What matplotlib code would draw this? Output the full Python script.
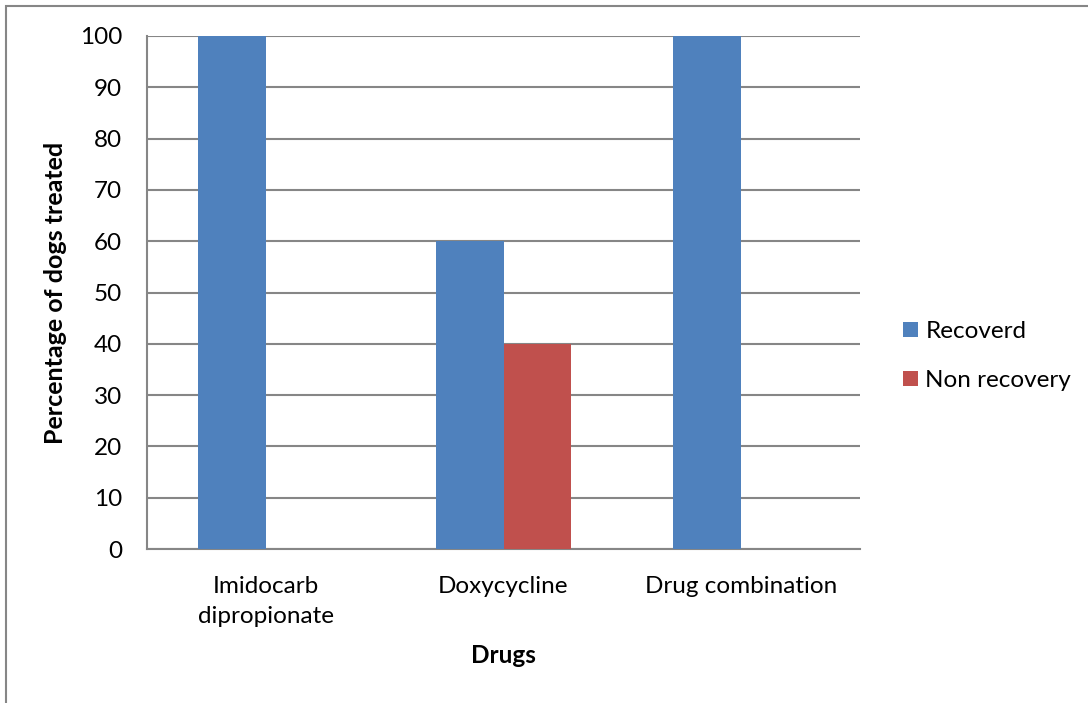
import matplotlib.pyplot as plt
import numpy as np
from matplotlib.patches import Rectangle

drugs = ["Imidocarb\ndipropionate", "Doxycycline", "Drug combination"]
recovered = [100, 60, 100]
non_recovery = [0, 40, 0]

blue = "#4F81BD"
red = "#C0504D"
grid_col = "#868686"

plt.rcParams['font.family'] = ['Lato', 'DejaVu Sans']

fig = plt.figure(figsize=(10.88, 7.03), dpi=100)
ax = fig.add_axes([147 / 1088, 1 - 549 / 703, (860 - 147) / 1088, (549 - 36) / 703])

x = np.arange(len(drugs))
w = 0.286
ax.bar(x - w / 2, recovered, w, color=blue, label="Recoverd", zorder=3)
ax.bar(x + w / 2, non_recovery, w, color=red, label="Non recovery", zorder=3)

ax.set_xlim(-0.5, 2.5)
ax.set_ylim(0, 100)
ax.set_yticks(range(0, 101, 10))
ax.set_xticks(x)
ax.set_xticklabels(drugs, fontsize=17.5, linespacing=1.55)
ax.tick_params(axis='y', labelsize=17.5, length=0, pad=18)
ax.tick_params(axis='x', length=0, pad=19.5)

ax.grid(axis='y', color=grid_col, linewidth=1.5, zorder=0)
for s in ['top', 'right']:
    ax.spines[s].set_visible(False)
for s in ['left', 'bottom']:
    ax.spines[s].set_color(grid_col)
    ax.spines[s].set_linewidth(1.5)

ax.set_ylabel("Percentage of dogs treated", fontsize=18, fontweight='bold', labelpad=9)
ax.set_xlabel("Drugs", fontsize=17.5, fontweight='bold', labelpad=12)

fig.legend(*ax.get_legend_handles_labels(), loc='center left',
           bbox_to_anchor=(903 / 1088, 1 - 356 / 703), frameon=False,
           borderpad=0, borderaxespad=0,
           fontsize=17.5, handlelength=0.62, handleheight=0.62, handletextpad=0.3,
           labelspacing=1.15)

# outer chart border
fig.patches.append(Rectangle((6 / 1088, -0.1), 1.2, 1 - 6 / 703 + 0.1,
                             transform=fig.transFigure, fill=False,
                             edgecolor=grid_col, linewidth=1.5))

fig.savefig("out.png", dpi=100)
